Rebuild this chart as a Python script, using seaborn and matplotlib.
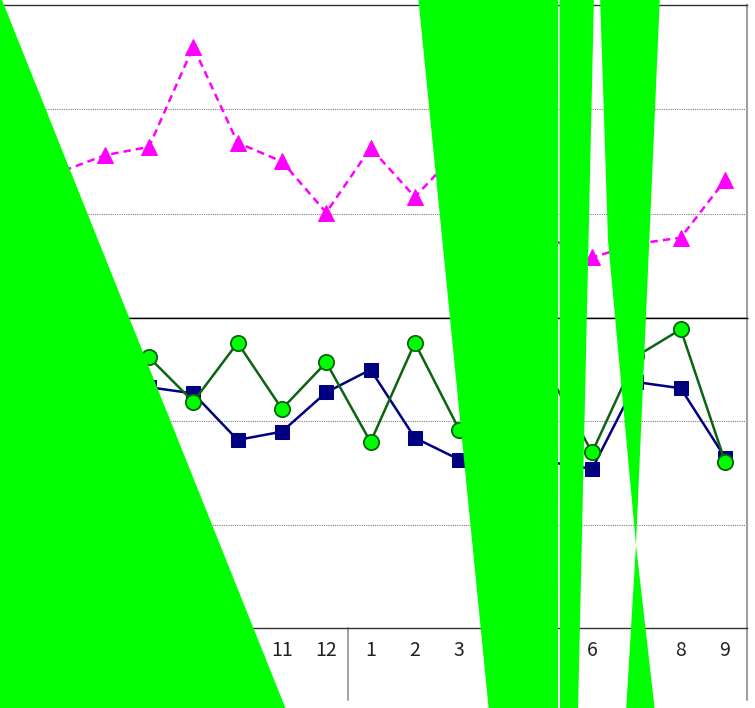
import matplotlib
matplotlib.use("Agg")
import matplotlib.pyplot as plt
from matplotlib.patches import Polygon
import numpy as np
import pandas as pd
import seaborn as sns

# month labels (two years: 5..12, then 1..9)
months = ["5", "6", "7", "8", "9", "10", "11", "12",
          "1", "2", "3", "4", "5", "6", "7", "8", "9"]

# upper panel series (magenta, dashed triangles)
pink_vals = [128, 140, 156, 164, 260, 168, 150, 101, 163,
             116, 161, 113, 77, 58, 71, 77, 132]

# lower panel series
navy_vals = [211, 221, 237, 233, 227, 182, 190, 228, 250,
             184, 163, 167, 161, 154, 238, 232, 165]
green_vals = [221, 201, 240, 262, 219, 276, 212, 257, 180,
              276, 192, 211, 248, 170, 263, 289, 161]

# green cover shapes over the picture (pixel coords, y from top)
cover_shapes = [
    [(-10, -10), (-2, -10), (287, 712), (-10, 712)],
    [(417.5, -5), (557.5, -5), (557.5, 712), (489.5, 712)],
    [(559.5, -5), (594, -5), (578, 712), (560, 712)],
    [(600, -5), (660, -5), (636, 545), (608, 240)],
    [(636, 545), (655, 712), (626, 712)],
]

df = pd.DataFrame({"idx": np.arange(len(months)), "month": months,
                   "pink": pink_vals, "navy": navy_vals, "green": green_vals})

sns.set_style("white")
plt.rcParams["font.family"] = ["Noto Sans CJK JP", "DejaVu Sans"]

W, H = 755, 708
fig = plt.figure(figsize=(W / 100, H / 100), dpi=100)

left = -6.1 / W
width = 753.3 / W
ax1 = fig.add_axes([left, 1 - 318 / H, width, 313 / H])
ax2 = fig.add_axes([left, 1 - 628 / H, width, 310 / H])

sns.lineplot(data=df, x="idx", y="pink", ax=ax1, color="#ff00ff",
             linestyle=(0, (3, 2)), linewidth=1.8, marker="^",
             markersize=11, markeredgecolor="#ff00ff")
sns.lineplot(data=df, x="idx", y="navy", ax=ax2, color="#000080",
             linewidth=1.8, marker="s", markersize=10,
             markeredgecolor="#000080")
sns.lineplot(data=df, x="idx", y="green", ax=ax2, color="#0b6410",
             linewidth=1.8, marker="o", markersize=11,
             markerfacecolor="#00ff00", markeredgecolor="#0b6410",
             markeredgewidth=1.3)

for ax in (ax1, ax2):
    ax.set_xlim(-0.5, len(months) - 0.5)
    ax.set_ylim(0, 300)
    ax.set_yticks([100, 200])
    ax.yaxis.grid(True, linestyle=(0, (1, 1)), color="#808080", linewidth=0.8)
    ax.tick_params(axis="y", left=False, labelleft=False)
    ax.set_xlabel("")
    ax.set_ylabel("")
    ax.spines["right"].set_color("#a0a0a0")
    ax.spines["right"].set_linewidth(1.5)
    ax.spines["left"].set_color("#a0a0a0")

ax1.set_xticks([])
ax1.spines["top"].set_color("#333333")
ax1.spines["bottom"].set_color("black")
ax2.spines["top"].set_color("black")
ax2.spines["bottom"].set_color("#333333")
for sp in ("top", "bottom"):
    ax1.spines[sp].set_linewidth(1.0)
    ax2.spines[sp].set_linewidth(1.0)

ax2.set_xticks(df["idx"])
ax2.set_xticklabels(months, fontsize=14, color="#222222")
ax2.tick_params(axis="x", length=0, pad=9)

# year separator and right border running down into the label area
ext = -(700 - 628) / 310
ax2.axvline(7.5, ymin=ext, ymax=0, color="#909090", linewidth=1.2, clip_on=False)
ax2.axvline(len(months) - 0.5, ymin=ext, ymax=0, color="#a0a0a0",
            linewidth=1.5, clip_on=False)

for shape in cover_shapes:
    pts = [(x / W, 1 - y / H) for x, y in shape]
    fig.add_artist(Polygon(pts, closed=True, transform=fig.transFigure,
                           facecolor="#00ff00", edgecolor="none", zorder=10))

fig.savefig("out.png", dpi=100)
